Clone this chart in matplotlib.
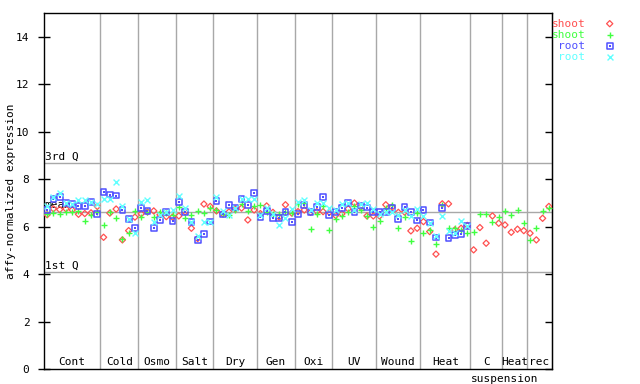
import matplotlib
matplotlib.use("Agg")
import matplotlib.pyplot as plt
import numpy as np

# conditions and number of samples in each
sections = ["Cont", "Cold", "Osmo", "Salt", "Dry", "Gen", "Oxi", "UV",
            "Wound", "Heat", "C suspension", "Heat", "rec"]
section_sizes = [9, 6, 6, 6, 7, 6, 6, 7, 7, 8, 5, 4, 4]

shoot_red = [6.50, 6.75, 6.72, 6.75, 6.70, 6.52, 6.55, 6.58, 6.85,
             5.55, 6.57, 6.74, 5.44, 5.83, 6.40,
             6.54, 6.62, 6.66, 6.50, 6.42, 6.40,
             6.45, 6.62, 5.93, 5.50, 6.95, 6.85,
             6.66, 6.54, 6.62, 6.74, 6.78, 6.28, 6.70,
             6.55, 6.87, 6.60, 6.40, 6.92, 6.57,
             6.63, 6.70, 6.60, 6.63, 6.63, 6.60,
             6.47, 6.54, 6.75, 6.99, 6.82, 6.45, 6.45,
             6.45, 6.92, 6.82, 6.60, 6.61, 5.82, 5.93,
             6.21, 5.79, 4.84, 6.96, 6.96, 5.86, 5.93, 6.05,
             5.02, 5.96, 5.30, 6.45, 6.14,
             6.07, 5.76, 5.89, 5.83,
             5.72, 5.44, 6.35, 6.85]
shoot_green = [6.52, 6.57, 6.53, 6.61, 6.61, 6.66, 6.24, 6.47, 6.60,
               6.07, 6.61, 6.35, 5.48, 5.75, 6.64,
               6.40, 6.60, 6.42, 6.63, 6.59, 6.50,
               6.82, 6.35, 6.50, 6.65, 6.59, 6.77,
               6.68, 6.55, 6.47, 6.70, 6.94, 6.66, 6.85,
               6.92, 6.60, 6.54, 6.54, 6.60, 6.57,
               6.94, 6.99, 5.89, 6.54, 6.85, 5.85,
               6.31, 6.45, 6.61, 6.87, 6.68, 6.45, 5.97,
               6.24, 6.78, 6.92, 5.93, 6.40, 5.40, 6.57,
               5.75, 5.86, 5.26, 6.90, 5.96, 5.96, 5.86, 5.72,
               5.79, 6.54, 6.54, 6.19, 6.40,
               6.66, 6.50, 6.70, 6.17,
               5.44, 5.93, 6.66, 6.78]
root_blue = [6.69, 7.15, 7.26, 6.98, 6.95, 6.86, 6.87, 7.05, 6.52,
             7.46, 7.35, 7.31, 6.69, 6.33, 5.93,
             6.78, 6.66, 5.93, 6.28, 6.61, 6.24,
             7.03, 6.63, 6.19, 5.44, 5.68, 6.21,
             7.07, 6.51, 6.92, 6.80, 7.16, 6.92, 7.41,
             6.40, 6.65, 6.35, 6.35, 6.62, 6.19,
             6.54, 6.92, 6.61, 6.82, 7.24, 6.50,
             6.63, 6.78, 6.99, 6.61, 6.89, 6.80, 6.61,
             6.63, 6.61, 6.78, 6.31, 6.82, 6.63, 6.26,
             6.70, 6.17, 5.54, 6.78, 5.51, 5.65, 5.69, 6.03]
root_cyan = [6.87, 7.23, 7.41, 6.98, 6.95, 7.10, 7.10, 7.05, 6.96,
             7.16, 7.16, 7.87, 6.87, 6.33, 5.72,
             7.03, 7.13, 6.21, 6.50, 6.61, 6.70,
             7.30, 6.78, 6.21, 5.62, 6.19, 6.19,
             7.24, 6.66, 6.50, 6.78, 7.16, 7.16, 7.16,
             6.50, 6.78, 6.54, 6.07, 6.35, 6.74,
             7.03, 7.13, 6.70, 7.00, 6.99, 6.78,
             6.70, 6.94, 7.00, 6.70, 6.95, 7.00, 6.74,
             6.55, 6.60, 6.61, 6.50, 6.70, 6.45, 6.75,
             6.45, 6.17, 5.60, 6.45, 5.83, 5.75, 6.24, 6.03]

q3_value = 8.68
mean_value = 6.62
q1_value = 4.08

series = [("shoot", shoot_red, "#ff5050", "D"),
          ("shoot", shoot_green, "#40ff40", "+"),
          ("root", root_blue, "#5050ff", "s"),
          ("root", root_cyan, "#60ffff", "x")]


def draw_marker(ax, x, y, col, mk, **kw):
    if mk == "D":
        ax.scatter(x, y, marker="D", s=10, facecolors="none",
                   edgecolors=col, linewidths=0.9, **kw)
    elif mk == "s":
        ax.scatter(x, y, marker="s", s=17, facecolors="none",
                   edgecolors=col, linewidths=1.1, **kw)
        ax.scatter(x, y, marker="s", s=1.5, color=col, linewidths=0, **kw)
    else:
        ax.scatter(x, y, marker=mk, s=18, color=col, linewidths=1.0, **kw)


plt.rcParams["font.family"] = ["DejaVu Sans Mono"]
fig = plt.figure(figsize=(6.4, 3.84), dpi=100)
ax = fig.add_axes([44 / 640, 15 / 384, 508 / 640, 356 / 384])

n_total = sum(section_sizes)
grey = "#a8a8a8"

# horizontal reference lines with their labels
for val, lab in [(q3_value, "3rd Q"), (mean_value, "mean"), (q1_value, "1st Q")]:
    ax.axhline(val, color=grey, lw=1, zorder=1)
    ax.text(0.1, val + 0.07, lab, fontsize=8, color="black", ha="left",
            va="bottom", zorder=1)

# section separators and labels
edges = np.cumsum([0] + section_sizes)
for i, name in enumerate(sections):
    if i > 0:
        ax.axvline(edges[i], color=grey, lw=1, zorder=1)
    mid = (edges[i] + edges[i + 1]) / 2
    words = name.split(" ")
    ax.text(mid, 0.1, words[0], fontsize=8, ha="center", va="bottom", zorder=1)
    if len(words) > 1:
        ax.text(edges[i], -0.22, " ".join(words[1:]), fontsize=8,
                ha="left", va="top", clip_on=False)

for name, vals, col, mk in series:
    x = np.arange(len(vals)) + 0.5
    draw_marker(ax, x, vals, col, mk, zorder=3)

# legend drawn at the right
leg_y = [14.55, 14.07, 13.6, 13.13]
for (name, vals, col, mk), yy in zip(series, leg_y):
    ax.text(n_total + 5.3, yy, name, color=col, fontsize=8, ha="right",
            va="center", clip_on=False)
    draw_marker(ax, [n_total + 9.2], [yy], col, mk, clip_on=False)

ax.set_xlim(0, n_total)
ax.set_ylim(0, 15)
ax.set_xticks([])
ax.set_yticks(range(0, 15, 2))
ax.tick_params(axis="y", direction="inout", length=9, width=1, labelsize=8, pad=6)
for sp in ax.spines.values():
    sp.set_linewidth(1)
    sp.set_color("black")

right = ax.secondary_yaxis("right")
right.set_yticks(range(0, 15, 2))
right.tick_params(direction="in", length=5, width=1, labelright=False)

ax.set_ylabel("affy-normalized expression", fontsize=8)
ax.yaxis.set_label_coords(-0.056, 0.5)

fig.savefig("out.png", dpi=100)
